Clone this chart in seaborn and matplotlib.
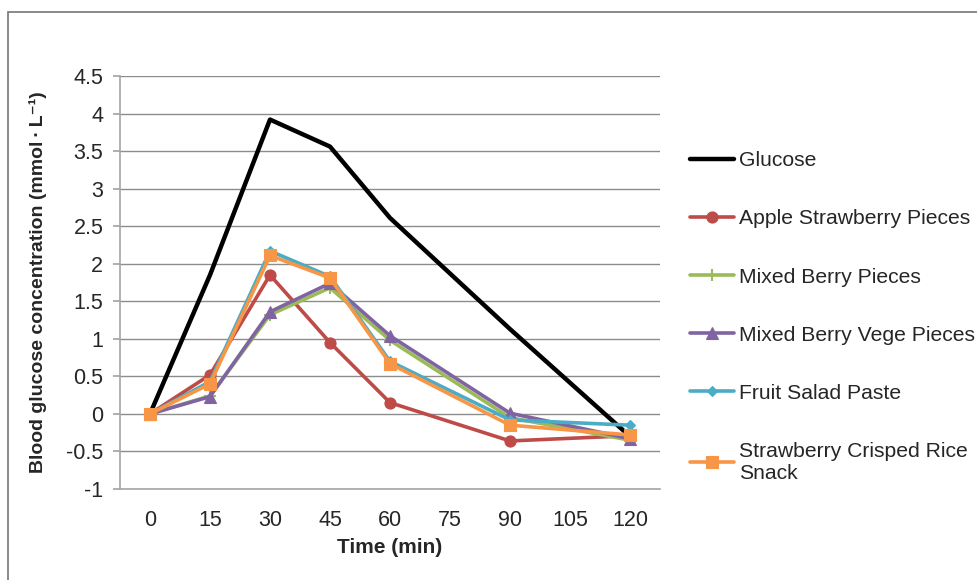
import matplotlib
matplotlib.use("Agg")
import matplotlib.pyplot as plt
import seaborn as sns
import pandas as pd
from matplotlib.patches import Rectangle

sns.set_theme(style="white")
plt.rcParams['font.family'] = ['Liberation Sans', 'DejaVu Sans']

times = [0, 15, 30, 45, 60, 90, 120]
glucose = [0, 1.85, 3.92, 3.56, 2.61, 1.13, -0.30]
apple_strawberry = [0, 0.52, 1.85, 0.95, 0.15, -0.36, -0.29]
mixed_berry = [0, 0.24, 1.32, 1.68, 0.98, -0.05, -0.35]
mixed_berry_vege = [0, 0.23, 1.36, 1.74, 1.04, 0.01, -0.33]
fruit_salad = [0, 0.43, 2.17, 1.83, 0.70, -0.08, -0.15]
strawberry_rice = [0, 0.40, 2.11, 1.81, 0.67, -0.15, -0.28]

series_names = ["Glucose", "Apple Strawberry Pieces", "Mixed Berry Pieces",
                "Mixed Berry Vege Pieces", "Fruit Salad Paste",
                "Strawberry Crisped Rice\nSnack"]
series_values = [glucose, apple_strawberry, mixed_berry, mixed_berry_vege,
                 fruit_salad, strawberry_rice]
colors = ["#000000", "#BE4B48", "#9BBB59", "#8064A2", "#4BACC6", "#F79646"]
markers = [None, "o", "+", "^", "D", "s"]
msizes = [0, 8, 9, 8, 5, 8]
lws = [3.2, 2.6, 2.6, 2.6, 2.6, 2.6]

x_ticks = [0, 15, 30, 45, 60, 75, 90, 105, 120]
y_ticks = [-1, -0.5, 0, 0.5, 1, 1.5, 2, 2.5, 3, 3.5, 4, 4.5]

rows = []
for name, vals in zip(series_names, series_values):
    for t, v in zip(times, vals):
        rows.append({"Time": t, "Value": v, "Series": name})
df = pd.DataFrame(rows)

fig = plt.figure(figsize=(9.77, 5.8), dpi=100)
ax = fig.add_axes([120/977, 1 - 489/580, (660-120)/977, (489-76)/580])

for name, c, m, ms, lw in zip(series_names, colors, markers, msizes, lws):
    sub = df[df["Series"] == name]
    kw = {}
    if m is not None:
        kw = dict(marker=m, markersize=ms, markeredgecolor=c, markerfacecolor=c,
                  markeredgewidth=1.5 if m == "+" else 0.8)
    sns.lineplot(data=sub, x="Time", y="Value", ax=ax, color=c, linewidth=lw,
                 label=name, **kw)

ax.set_xlim(-7.5, 127.5)
ax.set_ylim(-1, 4.5)
ax.set_xticks(x_ticks)
ax.set_xticklabels([str(t) for t in x_ticks])
ax.set_yticks(y_ticks)
ax.set_yticklabels([("%g" % v) for v in y_ticks])
ax.yaxis.grid(True, color="#8C8C8C", linewidth=1.0)
ax.set_axisbelow(True)
for s in ["top", "right"]:
    ax.spines[s].set_visible(False)
ax.spines["left"].set_color("#A6A6A6")
ax.spines["bottom"].set_color("#A6A6A6")
ax.spines["left"].set_linewidth(1.2)
ax.spines["bottom"].set_linewidth(1.2)
ax.tick_params(axis="y", which="both", left=True, length=5, color="#A6A6A6",
               labelsize=15.5, pad=7)
ax.tick_params(axis="x", bottom=False, labelsize=15.5, pad=9)
ax.set_xlabel("Time (min)", fontsize=15, fontweight="bold", labelpad=5)
ax.set_ylabel("Blood glucose concentration (mmol\u2009\u00b7\u2009L\u207b\u00b9)",
              fontsize=14, fontweight="bold", labelpad=14)

handles, labels = ax.get_legend_handles_labels()
ax.get_legend().remove()
leg = fig.legend(handles, labels, loc="upper left",
                 bbox_to_anchor=(682/977, 1 - 143/580), frameon=False,
                 fontsize=15.2, labelspacing=1.85, handlelength=2.05,
                 handletextpad=0.25, borderaxespad=0)

fig.patches.append(Rectangle((8/977, -0.1), 1.2, 1 - 12/580 + 0.1,
                             transform=fig.transFigure, fill=False,
                             edgecolor="#777777", linewidth=1.2))

fig.savefig("out.png", dpi=100)
